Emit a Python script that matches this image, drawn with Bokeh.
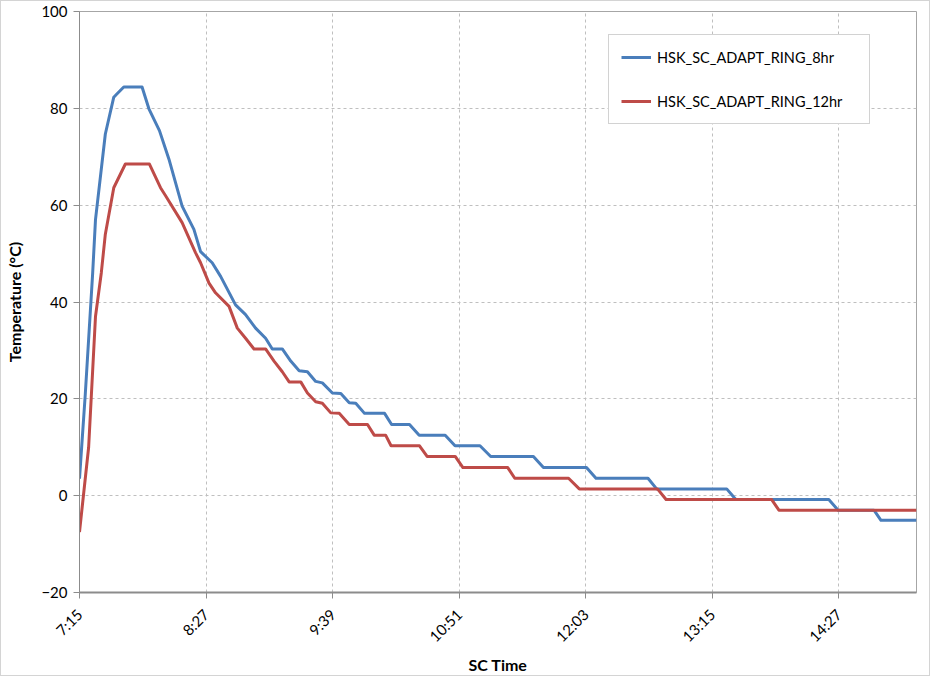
import math
from bokeh.plotting import figure
from bokeh.models import Range1d, FixedTicker, Legend, LegendItem
from bokeh.embed import file_html
from bokeh.resources import INLINE

# ---- data (elapsed minutes after 7:15, temperature in deg C) ----
start_clock_min = 7 * 60 + 15

blue_label = "HSK_SC_ADAPT_RING_8hr"
blue_t = [0, 3.3, 7.5, 9.1, 14.7, 19.5, 21.4, 25.2, 35.6, 39.5, 45.5, 50.9, 58.4,
          65.1, 68.9, 75.5, 80.3, 88.8, 94.5, 100.2, 105.9, 109.7, 115.4, 120.2,
          125.0, 129.7, 134.4, 138.2, 143.9, 148.7, 153.5, 157.2, 162.2, 173.6,
          177.6, 187.8, 193.3, 208.1, 213.7, 227.9, 234.0, 258.3, 264.0, 288.5,
          293.9, 323.5, 328.4, 368.3, 373.5, 426.4, 431.7, 452.1, 456.1, 476.3]
blue_v = [3.5, 21.0, 46.0, 57.0, 74.7, 82.3, 83.0, 84.4, 84.4, 79.9, 75.4, 69.5, 59.8,
          55.0, 50.4, 48.1, 45.3, 39.4, 37.4, 34.6, 32.5, 30.3, 30.3, 27.8,
          25.8, 25.6, 23.6, 23.3, 21.2, 21.1, 19.2, 19.1, 17.0, 17.0,
          14.7, 14.7, 12.5, 12.5, 10.3, 10.3, 8.1, 8.1, 5.8, 5.8,
          3.6, 3.6, 1.4, 1.4, -0.8, -0.8, -3.0, -3.0, -5.1, -5.1]

red_label = "HSK_SC_ADAPT_RING_12hr"
red_t = [0, 5.2, 9.1, 12.4, 14.7, 19.5, 26.1, 39.8, 46.1, 48.9, 58.4, 66.0, 68.9,
         73.7, 77.4, 85.1, 89.8, 94.5, 99.3, 105.9, 110.7, 115.4, 119.3, 125.9,
         129.7, 134.4, 138.2, 143.0, 147.8, 153.5, 163.9, 167.7, 174.2, 177.3,
         193.5, 197.8, 213.8, 218.2, 243.7, 247.7, 278.3, 284.4, 328.9, 333.8,
         393.9, 398.0, 476.3]
red_v = [-7.5, 10.0, 37.0, 46.0, 54.0, 63.6, 68.5, 68.5, 63.6, 62.0, 56.4, 50.2, 48.1,
         43.9, 41.9, 39.1, 34.6, 32.5, 30.3, 30.3, 27.8, 25.6, 23.5, 23.5,
         21.2, 19.4, 19.1, 17.1, 17.0, 14.7, 14.7, 12.5, 12.5, 10.3,
         10.3, 8.1, 8.1, 5.8, 5.8, 3.6, 3.6, 1.4, 1.4, -0.8,
         -0.8, -3.0, -3.0]

x_tick_labels = ["7:15", "8:27", "9:39", "10:51", "12:03", "13:15", "14:27"]
y_ticks = [-20, 0, 20, 40, 60, 80, 100]
x_axis_end = "15:11"

def clock_to_min(s):
    h, m = s.split(":")
    return int(h) * 60 + int(m)

x_ticks = [clock_to_min(s) for s in x_tick_labels]
bx = [start_clock_min + t for t in blue_t]
rx = [start_clock_min + t for t in red_t]

FONT = "Lato"

p = figure(width=930, height=676, output_backend="svg", toolbar_location=None,
           x_range=Range1d(clock_to_min(x_tick_labels[0]), clock_to_min(x_axis_end) + 0.3),
           y_range=Range1d(-20, 100),
           min_border_left=78, min_border_right=15, min_border_top=10, min_border_bottom=84,
           title=None)
p.background_fill_color = "white"
p.border_fill_color = "white"
p.outline_line_color = "#a6a6a6"
p.outline_line_width = 1

r1 = p.line(bx, blue_v, line_color="#4A7EBB", line_width=3, line_join="round")
r2 = p.line(rx, red_v, line_color="#BE4B48", line_width=3, line_join="round")

# axes
p.xaxis.ticker = FixedTicker(ticks=x_ticks)
p.xaxis.major_label_overrides = {t: l for t, l in zip(x_ticks, x_tick_labels)}
p.xaxis.major_label_orientation = math.pi / 4
p.yaxis.ticker = FixedTicker(ticks=y_ticks)
p.xaxis.minor_tick_line_color = None
p.yaxis.minor_tick_line_color = None
for ax in (p.xaxis, p.yaxis):
    ax.axis_line_color = "#8c8c8c"
    ax.major_tick_line_color = "#8c8c8c"
    ax.major_tick_out = 6
    ax.major_tick_in = 0
    ax.major_label_text_font = FONT
    ax.major_label_text_font_size = "15px"
    ax.major_label_text_color = "#000000"
    ax.axis_label_text_font = FONT
    ax.axis_label_text_font_size = "16px"
    ax.axis_label_text_font_style = "bold"
    ax.axis_label_text_color = "#000000"
p.xaxis.axis_line_width = 2
p.xaxis.axis_label = "SC Time"
p.yaxis.axis_label = "Temperature (°C)"
p.yaxis.major_label_standoff = 6
p.xaxis.major_label_standoff = 13
p.xaxis.axis_label_standoff = 1
p.yaxis.axis_label_standoff = 14

# grid
for g in (p.xgrid, p.ygrid):
    g.grid_line_color = "#bfbfbf"
    g.grid_line_dash = "3 3"
    g.grid_line_width = 1
p.xgrid.ticker = FixedTicker(ticks=x_ticks)
p.ygrid.ticker = FixedTicker(ticks=y_ticks)

legend = Legend(items=[LegendItem(label=blue_label, renderers=[r1]),
                       LegendItem(label=red_label, renderers=[r2])],
                location=(529, 468))
legend.border_line_color = "#a6a6a6"
legend.border_line_width = 1
legend.background_fill_color = "white"
legend.background_fill_alpha = 1
legend.padding = 12
legend.spacing = 24
legend.glyph_height = 20
legend.label_height = 20
legend.glyph_width = 30
legend.label_width = 200
legend.label_standoff = 6
legend.label_text_font = FONT
legend.label_text_font_size = "14.5px"
legend.label_text_color = "#000000"
legend.margin = 0
p.add_layout(legend)

p.styles = {"border": "1px solid #d4d4d4"}

open("out.html", "w").write(file_html(p, INLINE))
